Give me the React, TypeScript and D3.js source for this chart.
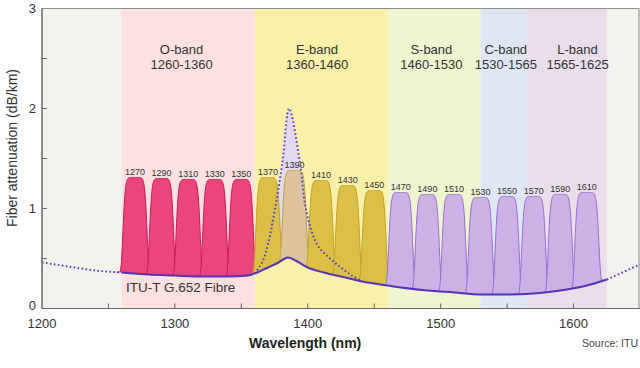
import React from "react";
import * as d3 from "d3";

// ---- data ----
const bandNames = ["O-band", "E-band", "S-band", "C-band", "L-band"];
const bandStart = [1260, 1360, 1460, 1530, 1565];
const bandEnd = [1360, 1460, 1530, 1565, 1625];
const bandLabelAt = [1305, 1407, 1493, 1549, 1603];
const bandFill = ["#fde0e0", "#faf0aa", "#eef5cf", "#dfe7f4", "#eadeea"];

const channels = [1270, 1290, 1310, 1330, 1350, 1370, 1390, 1410, 1430, 1450, 1470, 1490, 1510, 1530, 1550, 1570, 1590, 1610];
const channelTop = [1.31, 1.3, 1.29, 1.29, 1.29, 1.31, 1.38, 1.28, 1.23, 1.18, 1.16, 1.14, 1.14, 1.11, 1.12, 1.12, 1.14, 1.16];

const fibreWl = [1200, 1220, 1240, 1260, 1280, 1300, 1320, 1340, 1355, 1362, 1370, 1378, 1385, 1392, 1400, 1412, 1425, 1441, 1450, 1470, 1490, 1510, 1530, 1550, 1570, 1590, 1610, 1625, 1640, 1650];
const fibreDb = [0.46, 0.42, 0.38, 0.36, 0.34, 0.33, 0.32, 0.32, 0.33, 0.36, 0.41, 0.46, 0.51, 0.47, 0.41, 0.36, 0.32, 0.27, 0.25, 0.21, 0.18, 0.16, 0.14, 0.14, 0.15, 0.18, 0.23, 0.29, 0.38, 0.44];

const peakWl = [1360, 1366, 1370, 1375, 1381, 1386, 1394, 1399, 1407, 1415, 1422, 1432, 1441];
const peakDb = [0.35, 0.47, 0.64, 0.97, 1.47, 2.0, 1.47, 0.97, 0.64, 0.52, 0.44, 0.34, 0.27];

const xTicks = [1200, 1300, 1400, 1500, 1600];
const xMinor = [1250, 1300, 1350, 1400, 1450, 1500, 1550, 1600];
const yTicks = [0, 1, 2, 3];
const yMinor = [0.5, 1, 1.5, 2, 2.5];

const FONT = "'Liberation Sans', Arial, Helvetica, sans-serif";

export default function App() {
  const W = 640, H = 368;
  const x = d3.scaleLinear().domain([1200, 1650]).range([42, 640]);
  const y = d3.scaleLinear().domain([0, 3]).range([308.5, 8.5]);
  const [x0, x1] = x.range();
  const [yb, yt] = y.range();

  const fibre = fibreWl.map((w, i) => [w, fibreDb[i]] as [number, number]);
  const base = (w: number) => {
    const i = d3.bisector((d: [number, number]) => d[0]).right(fibre, w);
    if (i <= 0) return fibre[0][1];
    if (i >= fibre.length) return fibre[fibre.length - 1][1];
    const a = fibre[i - 1], b = fibre[i];
    return a[1] + ((w - a[0]) / (b[0] - a[0])) * (b[1] - a[1]);
  };

  const smooth = d3.line<[number, number]>().x(d => x(d[0])).y(d => y(d[1])).curve(d3.curveMonotoneX);

  const solidPart = fibre.filter(d => d[0] >= 1260 && d[0] <= 1625);
  const leftPart = fibre.filter(d => d[0] <= 1260);
  const rightPart = fibre.filter(d => d[0] >= 1625);

  const peak = peakWl.map((w, i) => [w, peakDb[i]] as [number, number]);
  const peakLine = d3.line<[number, number]>().x(d => x(d[0])).y(d => y(d[1])).curve(d3.curveCatmullRom.alpha(0.5));
  const peakArea = d3.area<[number, number]>().x(d => x(d[0])).y0(d => y(base(d[0]))).y1(d => y(d[1])).curve(d3.curveCatmullRom.alpha(0.5));

  const chanColor = (c: number) => {
    if (c === 1390) return { fill: "#dcc39e", stroke: "#c6a43a" };
    if (c < 1360) return { fill: "#ea467c", stroke: "#c8195c" };
    if (c < 1460) return { fill: "#dcbf45", stroke: "#c4a22c" };
    return { fill: "#ccb0e6", stroke: "#9a6fcf" };
  };

  const chanShape = (c: number, t: number) => {
    const pts: [number, number, number][] = [];
    for (let k = -14; k <= 14.0001; k += 0.25) {
      const w = c + k;
      const b = base(w);
      const u = Math.abs(k) / 9.3;
      const f = Math.exp(-Math.pow(u, 8));
      pts.push([w, b, b + (t - b) * f]);
    }
    return pts;
  };
  const chanArea = d3.area<[number, number, number]>().x(d => x(d[0])).y0(d => y(d[1])).y1(d => y(d[2]));
  const chanLine = d3.line<[number, number, number]>().x(d => x(d[0])).y(d => y(d[2]));

  return (
    <svg width={W} height={H} style={{ position: "absolute", left: 0, top: 0, background: "#fff" }} fontFamily={FONT}>
      <rect x={x0} y={yt} width={x1 - x0} height={yb - yt} fill="#f3f2ee" />
      {bandNames.map((n, i) => (
        <rect key={n} x={x(bandStart[i])} y={yt} width={x(bandEnd[i]) - x(bandStart[i])} height={yb - yt} fill={bandFill[i]} />
      ))}
      {bandNames.map((n, i) => (
        <g key={"l" + n} fill="#333" fontSize={13} textAnchor="middle">
          <text x={x(bandLabelAt[i])} y={53.5}>{n}</text>
          <text x={x(bandLabelAt[i])} y={69}>{`${bandStart[i]}-${bandEnd[i]}`}</text>
        </g>
      ))}

      <path d={peakArea(peak) || ""} fill="#e2d8f0" />

      {channels.map((c, i) => {
        const pts = chanShape(c, channelTop[i]);
        const col = chanColor(c);
        return (
          <g key={c}>
            <path d={chanArea(pts) || ""} fill={col.fill} />
            <path d={chanLine(pts) || ""} fill="none" stroke={col.stroke} strokeWidth={1} />
          </g>
        );
      })}
      {channels.map((c, i) => (
        <text key={"t" + c} x={x(c)} y={y(channelTop[i]) - 3} fontSize={9} textAnchor="middle" fill="#333">{c}</text>
      ))}

      <path d={peakLine(peak) || ""} fill="none" stroke="#5a3fc2" strokeWidth={2} strokeDasharray="1.6 2.4" />
      <path d={smooth(solidPart) || ""} fill="none" stroke="#5633b8" strokeWidth={2} />
      <path d={smooth(leftPart) || ""} fill="none" stroke="#5a3fc2" strokeWidth={2} strokeDasharray="1.6 2.4" />
      <path d={smooth(rightPart) || ""} fill="none" stroke="#5a3fc2" strokeWidth={2} strokeDasharray="1.6 2.4" />

      <text x={126} y={292} fontSize={13.5} fill="#333">ITU-T G.652 Fibre</text>

      {/* frame */}
      <rect x={x0} y={yt} width={x1 - x0 - 1} height={yb - yt} fill="none" stroke="#8d8d8d" strokeWidth={1} />
      <line x1={x0} x2={x0} y1={yt} y2={yb} stroke="#666" strokeWidth={1.2} />
      <line x1={x0} x2={x1} y1={yb} y2={yb} stroke="#666" strokeWidth={1.2} />
      {yMinor.map(v => (
        <line key={"ym" + v} x1={x0} x2={x0 + 5} y1={y(v)} y2={y(v)} stroke="#666" />
      ))}
      {xMinor.map(v => (
        <line key={"xm" + v} x1={x(v)} x2={x(v)} y1={yb} y2={yb - 5} stroke="#666" />
      ))}
      {yTicks.map(v => (
        <text key={"yt" + v} x={36} y={y(v) + 4.5 - (v === 0 ? 3 : 0)} fontSize={13} textAnchor="end" fill="#333">{v}</text>
      ))}
      {xTicks.map(v => (
        <text key={"xt" + v} x={x(v)} y={328} fontSize={13} textAnchor="middle" fill="#333">{v}</text>
      ))}
      <text x={x(1398)} y={348} fontSize={14} fontWeight="bold" textAnchor="middle" fill="#222">Wavelength (nm)</text>
      <text x={638} y={347} fontSize={10.5} textAnchor="end" fill="#444">Source: ITU</text>
      <text transform={`translate(17,148) rotate(-90)`} fontSize={14} textAnchor="middle" fill="#333">Fiber attenuation (dB/km)</text>
    </svg>
  );
}
